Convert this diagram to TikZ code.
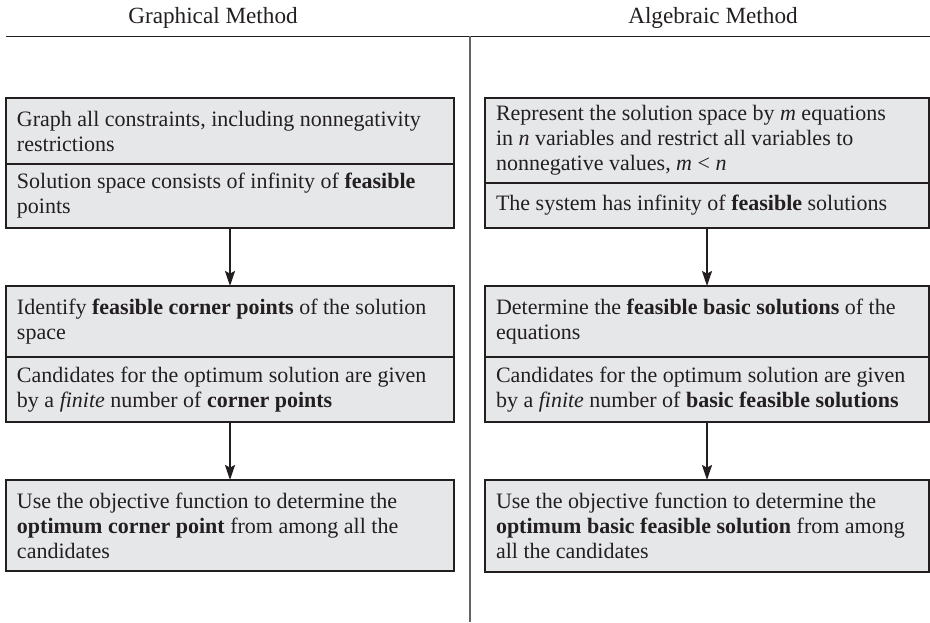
\documentclass[tikz,border=0pt]{standalone}
\usepackage{fontspec}
\setmainfont{Liberation Serif}
\usetikzlibrary{positioning,arrows.meta}

\definecolor{boxgray}{RGB}{230,231,233}
\definecolor{inkgray}{RGB}{35,31,32}
\definecolor{rulegray}{RGB}{100,100,104}

\tikzset{
  part/.style={draw=inkgray, fill=boxgray, line width=0.7pt, align=flush left,
    inner xsep=5.5pt, inner ysep=0pt, outer sep=0pt, text=inkgray,
    font=\fontsize{11}{12.5}\selectfont},
  lpart/.style={part, text width=213pt},
  rpart/.style={part, text width=211pt},
  flow/.style={-{Stealth[length=7.5pt,width=5pt,inset=1.3pt]}, line width=1pt, draw=inkgray},
  head/.style={text=inkgray, font=\fontsize{11.6}{13}\selectfont}
}

\begin{document}
\begin{tikzpicture}[x=1pt,y=1pt]
    \useasboundingbox (0,0) rectangle (465,-311);
    \coordinate (T) at (235,-18);
    \coordinate (B) at (235,-311);

    \node[head] (gtitle) at (106.5,-9) {Graphical Method};
    \node[head] (atitle) at (356.5,-9) {Algebraic Method};
    \draw[inkgray, line width=0.5pt] (3,-18) -- (465,-18);
    \draw[rulegray, line width=0.8pt] (T) -- (B);

    %Graphical
    \node[lpart, minimum height=33pt, anchor=north west] (g1) at (3,-49)
      {Graph all constraints, including nonnegativity\\restrictions};
    \node[lpart, minimum height=32pt, below=0pt of g1] (g2)
      {Solution space consists of infinity of \textbf{feasible}\\points};
    \node[lpart, minimum height=35.5pt, anchor=north west] (g3) at (3,-143)
      {Identify \textbf{feasible corner points} of the solution\\space};
    \node[lpart, minimum height=32.5pt, below=0pt of g3] (g4)
      {Candidates for the optimum solution are given\\by a \textit{finite} number of \textbf{corner points}};
    \node[lpart, minimum height=45.5pt, anchor=north west] (g5) at (3,-240)
      {Use the objective function to determine the\\\textbf{optimum corner point} from among all the\\candidates};

    %Algebraic
    \node[rpart, minimum height=42.5pt, anchor=north west] (a1) at (242.5,-49)
      {Represent the solution space by \textit{m} equations\\in \textit{n} variables and restrict all variables to\\nonnegative values, \textit{m} < \textit{n}};
    \node[rpart, minimum height=22.5pt, below=0pt of a1] (a2)
      {The system has infinity of \textbf{feasible} solutions};
    \node[rpart, minimum height=35.5pt, anchor=north west] (a3) at (242.5,-143)
      {Determine the \textbf{feasible basic solutions} of the\\equations};
    \node[rpart, minimum height=32.5pt, below=0pt of a3] (a4)
      {Candidates for the optimum solution are given\\by a \textit{finite} number of \textbf{basic feasible solutions}};
    \node[rpart, minimum height=46pt, anchor=north west] (a5) at (242.5,-240)
      {Use the objective function to determine the\\\textbf{optimum basic feasible solution} from among\\all the candidates};

    \draw[flow] (g2) -- (g3);
    \draw[flow] (g4) -- (g5);
    \draw[flow] (a2) -- (a3);
    \draw[flow] (a4) -- (a5);
  \end{tikzpicture}
\end{document}
